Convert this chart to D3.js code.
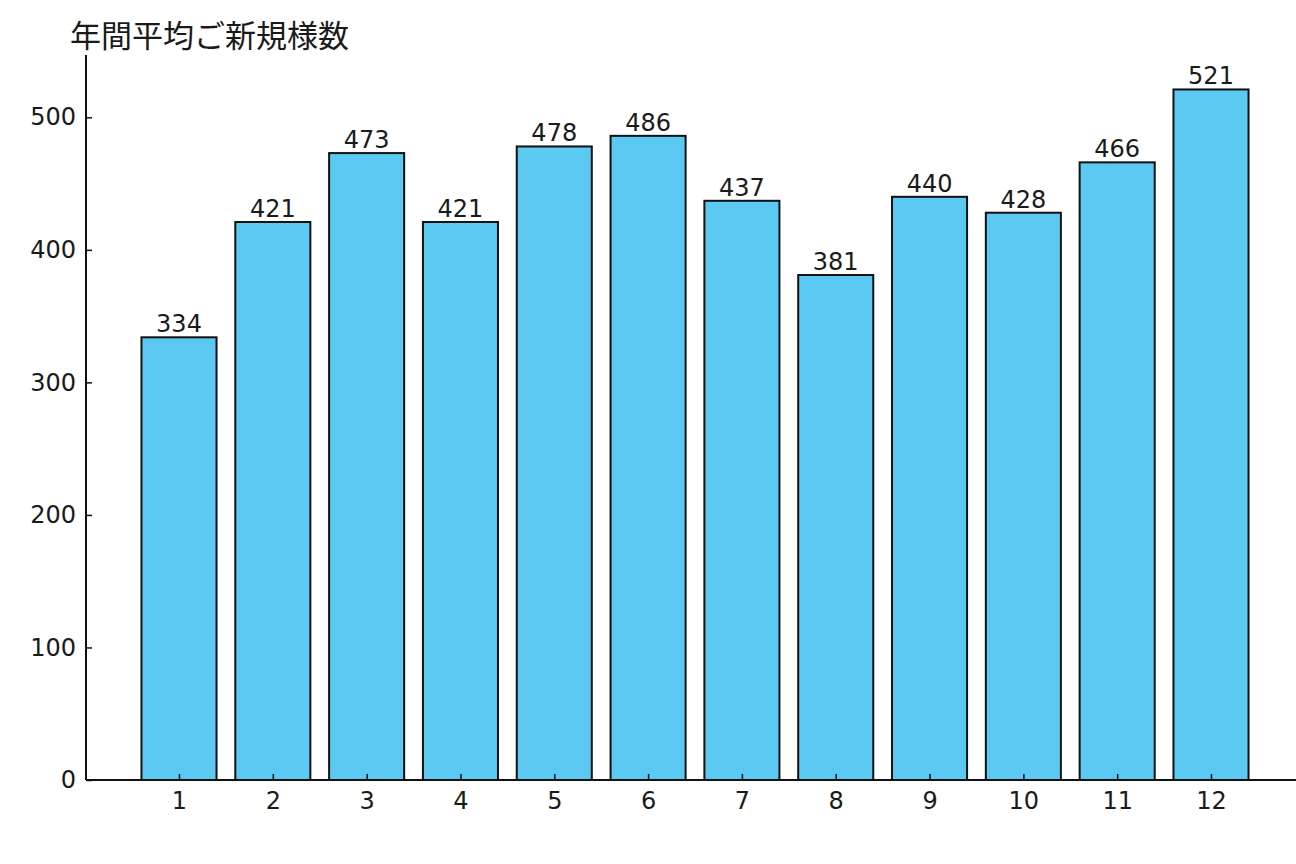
<!DOCTYPE html>
<html lang='ja'>
<head>
  <meta charset='utf-8'>
  <title>年間平均ご新規様数</title>
  <script src='https://cdn.jsdelivr.net/npm/d3@7/dist/d3.min.js'></script>
  <style>
  body { margin: 0; background: #fff; }
  text { font-family: 'DejaVu Sans', sans-serif; fill: #1a1a1a; }
  .title { font-family: 'Noto Sans CJK JP', 'DejaVu Sans', sans-serif; }
  .bar { fill: #5bc9f1; stroke: #111; stroke-width: 2; }
  </style>
</head>
<body>
<script>
// chart data
var months = [1, 2, 3, 4, 5, 6, 7, 8, 9, 10, 11, 12];
var visitors = [334, 421, 473, 421, 478, 486, 437, 381, 440, 428, 466, 521];
var yTicks = [0, 100, 200, 300, 400, 500];
var titleText = '年間平均ご新規様数';

var width = 1296;
var height = 864;
var axisLeft = 86;

var svg = d3.select('body')
  .append('svg')
  .attr('width', width)
  .attr('height', height);

// x: continuous like matplotlib, bars of width 0.8 centered on month number
var x = d3.scaleLinear()
  .domain([1, 12])
  .range([179, 1211]);

var y = d3.scaleLinear()
  .domain([0, 547])
  .range([780, 55]);

var g = svg.append('g');

g.selectAll('rect')
  .data(visitors)
  .enter()
  .append('rect')
  .attr('class', 'bar')
  .attr('x', function(d, i) { return x(months[i] - 0.4); })
  .attr('width', function(d, i) { return x(months[i] + 0.4) - x(months[i] - 0.4); })
  .attr('y', function(d) { return y(d); })
  .attr('height', function(d) { return y(0) - y(d); });

// value labels
g.selectAll('.val')
  .data(visitors)
  .enter()
  .append('text')
  .attr('class', 'val')
  .attr('x', function(d, i) { return x(months[i]); })
  .attr('y', function(d) { return y(d) - 5; })
  .attr('text-anchor', 'middle')
  .style('font-size', '24px')
  .text(function(d) { return d; });

// axes, ticks point inwards
var xAxis = svg.append('g')
  .attr('transform', 'translate(0,' + y(0) + ')')
  .call(d3.axisBottom(x).tickValues(months).tickSize(-6).tickPadding(12).tickFormat(d3.format('d')));

var yAxis = svg.append('g')
  .attr('transform', 'translate(' + axisLeft + ',0)')
  .call(d3.axisLeft(y).tickValues(yTicks).tickSize(-6).tickPadding(10));

[xAxis, yAxis].forEach(function(a) {
  a.select('.domain').attr('stroke', '#111').attr('stroke-width', 2);
  a.selectAll('.tick line').attr('stroke', '#111').attr('stroke-width', 1.5);
  a.selectAll('.tick text').style('font-size', '24px').style('font-family', "'DejaVu Sans', sans-serif").attr('fill', '#1a1a1a');
});
xAxis.select('.domain').attr('d', 'M' + axisLeft + ',0H' + width);
yAxis.select('.domain').attr('d', 'M0,' + y(0) + 'V' + y(547));

svg.append('text')
  .attr('class', 'title')
  .attr('x', 70)
  .attr('y', 47)
  .style('font-size', '31px')
  .text(titleText);
</script>
</body>
</html>
